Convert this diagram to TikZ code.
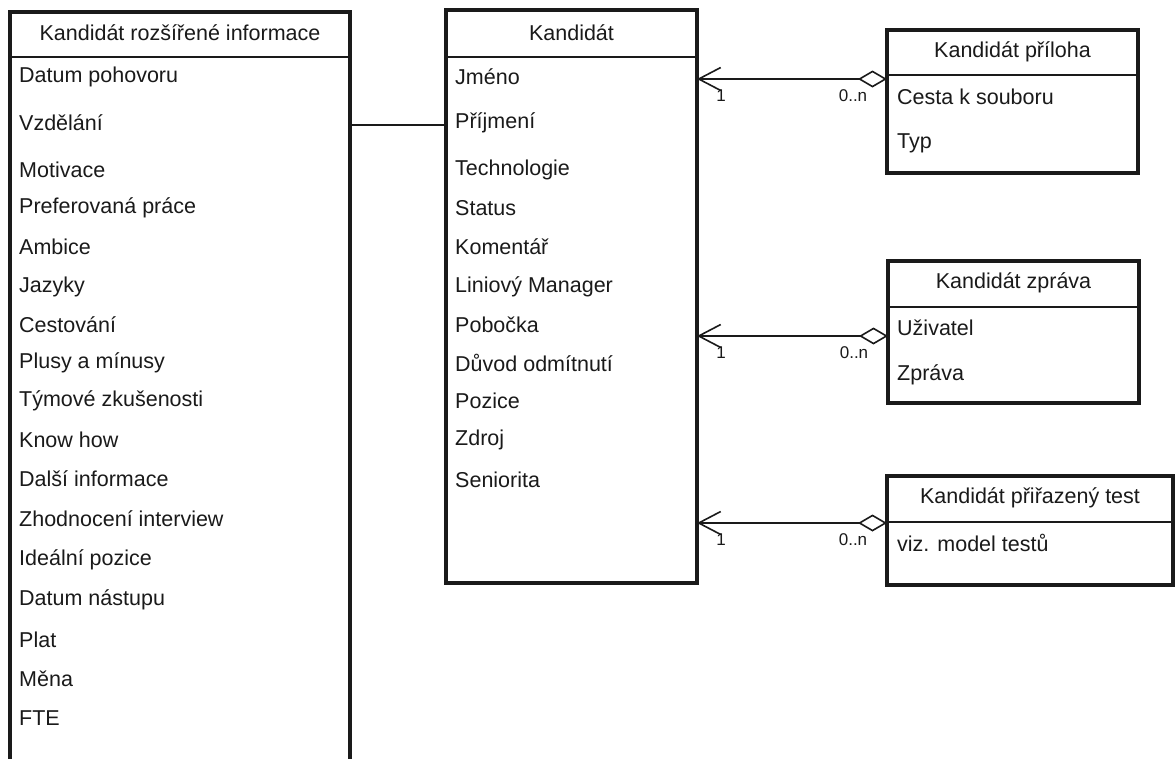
\documentclass[tikz,border=0pt]{standalone}
\usepackage{fontspec}
\setmainfont{Liberation Sans}
\usetikzlibrary{arrows.meta}
\definecolor{ink}{HTML}{1A1A1A}
\begin{document}
\begin{tikzpicture}[x=1pt,y=-1pt,
  entity/.style={draw=ink, line width=3.4pt, anchor=north west, inner sep=0pt, outer sep=0pt},
  openbox/.style={anchor=north west, inner sep=0pt, outer sep=0pt},
  divider/.style={draw=ink, line width=2.6pt},
  title/.style={text=ink, font=\fontsize{21.5}{24}\selectfont, inner sep=0pt},
  attr/.style={text=ink, font=\fontsize{21.5}{24}\selectfont, anchor=west, inner sep=0pt},
  mult/.style={text=ink, font=\fontsize{17}{19}\selectfont, inner sep=0pt},
  link/.style={draw=ink, line width=1.6pt},
  assoc/.style={draw=ink, line width=1.6pt,
    {Diamond[open,length=29pt,width=17pt,line width=1.6pt]}-{Straight Barb[length=22pt,width=23pt,line width=1.6pt]}}
]
\useasboundingbox (0,0) rectangle (1175,758);
\fill[white] (0,0) rectangle (1175,758);

% --- Kandidát rozšířené informace (runs past the lower edge)
\node[openbox, minimum width=340pt, minimum height=800pt] (ext) at (10,12) {};
\draw[ink, line width=3.4pt, line join=miter]
  (ext.south west) -- (ext.north west) -- (ext.north east) -- (ext.south east);
\node[title] (extT) at ([yshift=-21pt]ext.north) {Kandidát rozšířené informace};
\draw[divider] ([yshift=-45pt]ext.north west) -- ([yshift=-45pt]ext.north east);
\foreach \y/\t [count=\i] in {77/Datum pohovoru, 123/Vzdělání, 170/Motivace,
    208/Preferovaná práce, 247/Ambice, 287/Jazyky, 325/Cestování,
    363/Plusy a mínusy, 401/Týmové zkušenosti, 440/Know how,
    479/Další informace, 519/Zhodnocení interview, 560/Ideální pozice,
    600/Datum nástupu, 640/Plat, 679/Měna, 718/FTE}
  \node[attr] (e\i) at (19,\y) {\t};

% --- Kandidát
\node[entity, minimum width=251pt, minimum height=573pt] (kand) at (446,10) {};
\node[title] (kandT) at ([yshift=-23pt]kand.north) {Kandidát};
\draw[divider] ([yshift=-47pt]kand.north west) -- ([yshift=-47pt]kand.north east);
\foreach \y/\t [count=\i] in {77/Jméno, 123/Příjmení, 170/Technologie,
    208/Status, 247/Komentář, 287/Liniový Manager, 325/Pobočka,
    363/Důvod odmítnutí, 401/Pozice, 440/Zdroj, 480/Seniorita}
  \node[attr] (k\i) at (455,\y) {\t};

% --- Kandidát příloha
\node[entity, minimum width=251pt, minimum height=143pt] (pril) at (887,30) {};
\node[title] (prilT) at ([yshift=-22pt]pril.north) {Kandidát příloha};
\draw[divider] ([yshift=-45pt]pril.north west) -- ([yshift=-45pt]pril.north east);
\node[attr] (p1) at (897,97) {Cesta k souboru};
\node[attr] (p2) at (897,143) {Typ};

% --- Kandidát zpráva
\node[entity, minimum width=251pt, minimum height=142pt] (zpr) at (888,261) {};
\node[title] (zprT) at ([yshift=-22pt]zpr.north) {Kandidát zpráva};
\draw[divider] ([yshift=-46pt]zpr.north west) -- ([yshift=-46pt]zpr.north east);
\node[attr] (z1) at (897,328) {Uživatel};
\node[attr] (z2) at (897,375) {Zpráva};

% --- Kandidát přiřazený test
\node[entity, minimum width=286pt, minimum height=109pt] (test) at (887,476) {};
\node[title] (testT) at ([yshift=-22pt]test.north) {Kandidát přiřazený test};
\draw[divider] ([yshift=-46pt]test.north west) -- ([yshift=-46pt]test.north east);
\node[attr] (t1) at (897,543) {viz. model testů};

% --- one-to-one link between the two candidate tables
\draw[link] ([yshift=-113pt]ext.north east) -- ([yshift=-113pt]ext.north east -| kand.west);

% --- aggregations towards Kandidát
\coordinate (a1) at ([yshift=-49pt]pril.north west);
\coordinate (a2) at ([yshift=-75pt]zpr.north west);
\coordinate (a3) at ([yshift=-47pt]test.north west);
\foreach \a in {1,2,3} {
  \draw[assoc] (a\a) -- (a\a -| kand.east);
  \node[mult] (one\a) at ([xshift=24pt,yshift=-17pt]a\a -| kand.east) {1};
  \node[mult] (many\a) at ([xshift=-34pt,yshift=-17pt]a\a) {0..n};
}
\end{tikzpicture}
\end{document}
